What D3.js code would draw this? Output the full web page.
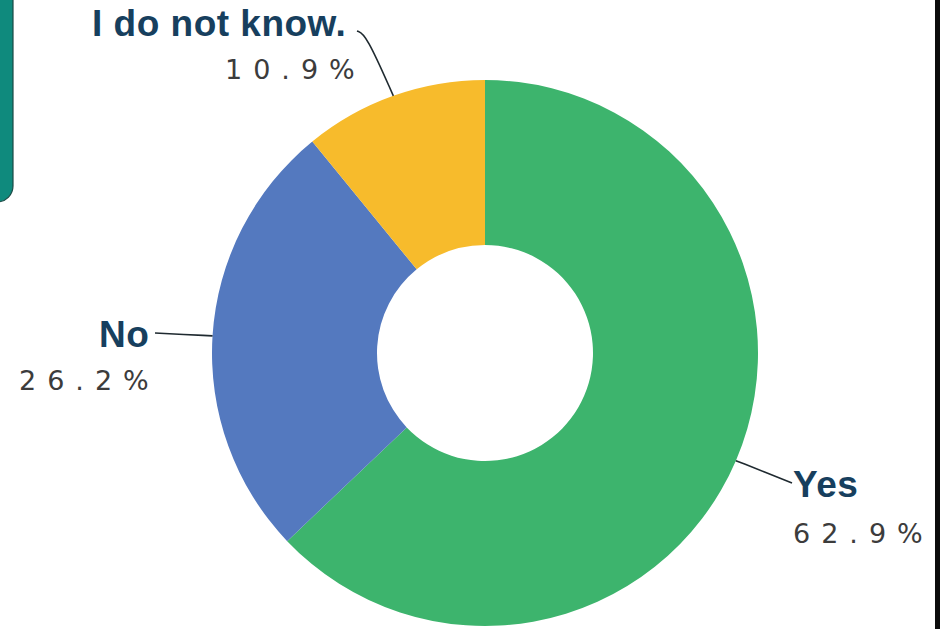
<!DOCTYPE html>
<html>
<head>
<meta charset="utf-8">
<script src="https://cdn.jsdelivr.net/npm/d3@7"></script>
<style>
  html, body { margin: 0; padding: 0; background: #ffffff; }
  svg { display: block; }
</style>
</head>
<body>
<svg id="chart" width="940" height="629"></svg>
<script>
// Survey answers, in drawing order (clockwise from 12 o'clock)
const categories = ["Yes", "No", "I do not know."];
const values = [62.9, 26.2, 10.9];
const valueLabels = ["62.9%", "26.2%", "10.9%"];

// Slice colours
const colors = ["#3db46d", "#5479bf", "#f7bb2c"];

// Label layout: elbow point of the leader and where its text block starts
const labelLayout = [
  { elbow: [792, 483], end: [792, 483], nameX: 793, nameY: 497, pctX: 793, pctY: 543 },
  { elbow: [155, 333], end: [155, 333], nameX: 99,  nameY: 347, pctX: 19,  pctY: 390 },
  { elbow: [366, 34],  end: [357, 31],  nameX: 92,  nameY: 36,  pctX: 225, pctY: 79 }
];

const width = 940, height = 629;
const cx = 485, cy = 353, outerR = 273, innerR = 108;

const svg = d3.select("#chart");

// Teal side tab at the upper left edge
svg.append("rect")
  .attr("x", -20).attr("y", -20)
  .attr("width", 33).attr("height", 222)
  .attr("rx", 16).attr("ry", 16)
  .attr("fill", "#0f8a7d")
  .attr("stroke", "#1c4a45")
  .attr("stroke-width", 1.2);

// Dark strip down the right edge
svg.append("rect")
  .attr("x", 935).attr("y", 0)
  .attr("width", 5).attr("height", height)
  .attr("fill", "#0c0c0c");

const pie = d3.pie().sort(null).value(d => d.value);
const arcs = pie(categories.map((c, i) => ({ name: c, value: values[i], pct: valueLabels[i], i })));

const arc = d3.arc().innerRadius(innerR).outerRadius(outerR);
const edgeArc = d3.arc().innerRadius(outerR).outerRadius(outerR);

const g = svg.append("g").attr("transform", `translate(${cx},${cy})`);

g.selectAll("path.slice")
  .data(arcs)
  .join("path")
  .attr("class", "slice")
  .attr("d", arc)
  .attr("fill", d => colors[d.data.i]);

// Leader lines: from the slice's mid-angle on the outer rim to the label
const lab = svg.append("g");
arcs.forEach(d => {
  const L = labelLayout[d.data.i];
  const [ex, ey] = edgeArc.centroid(d);
  const pts = [[ex + cx, ey + cy], L.elbow, L.end];
  lab.append("path")
    .attr("d", d3.line().curve(d3.curveBasis)(pts))
    .attr("fill", "none")
    .attr("stroke", "#1f2a30")
    .attr("stroke-width", 1.6);

  lab.append("text")
    .attr("x", L.nameX).attr("y", L.nameY)
    .attr("font-family", "'Liberation Sans', Arial, sans-serif")
    .attr("font-weight", "bold")
    .attr("font-size", 37)
    .attr("letter-spacing", 0.5)
    .attr("fill", "#173f5e")
    .text(d.data.name);

  lab.append("text")
    .attr("x", L.pctX).attr("y", L.pctY)
    .attr("font-family", "'DejaVu Sans', sans-serif")
    .attr("font-size", 27)
    .attr("letter-spacing", 11)
    .attr("fill", "#3c3c3c")
    .text(d.data.pct);
});
</script>
</body>
</html>
